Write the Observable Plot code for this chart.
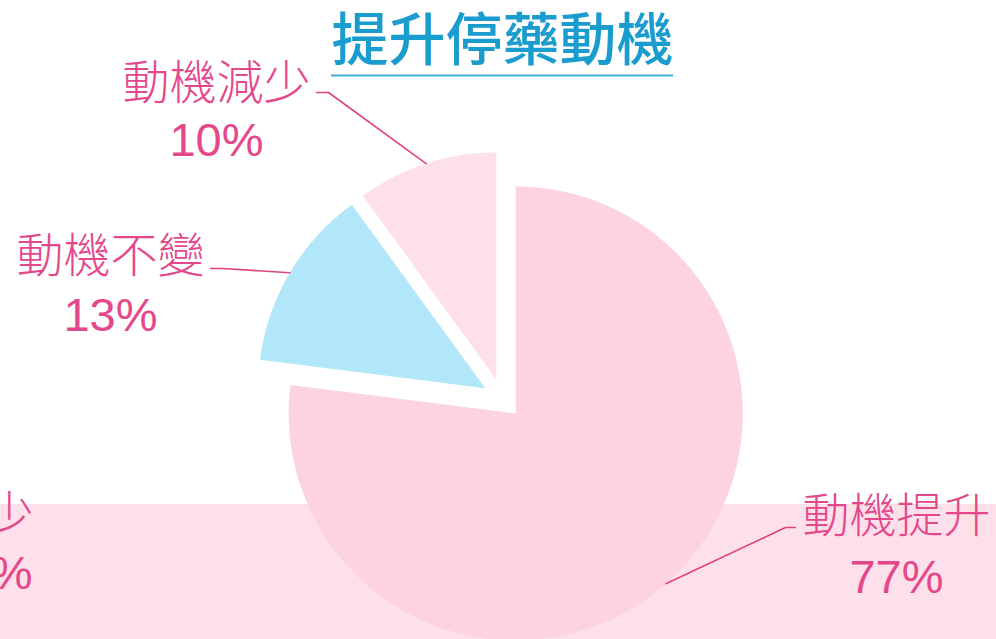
<!DOCTYPE html>
<html>
<head>
<meta charset="utf-8">
<script src="https://cdn.jsdelivr.net/npm/d3@7"></script>
<script src="https://cdn.jsdelivr.net/npm/@observablehq/plot@0.6"></script>
<style>
  html, body { margin: 0; padding: 0; background: #ffffff; }
  #wrap { position: relative; width: 996px; height: 639px; }
  #band { position: absolute; left: 0; top: 504px; width: 996px; height: 135px; background: #fde0ea; }
  #chart { position: absolute; left: 0; top: 0; }
</style>
</head>
<body>
<div id="wrap">
  <div id="band"></div>
  <div id="chart"></div>
</div>
<script>
// ---- data ----
const title = "提升停藥動機";
const names = ["動機提升", "動機不變", "動機減少"];
const values = [77, 13, 10];
const pctLabels = ["77%", "13%", "10%"];

// ---- layout (pixels) ----
const W = 996, H = 639;
const CX = 502, CY = 398, R = 227, EXPLODE = 20;
const sliceColors = ["#fdd3df", "#b2e7f9", "#fde0ea"];
const pink = "#e4488b";
const labelLayout = {
  "動機提升": {x: 896, yName: 531, yPct: 592, elbow: [785, 527], end: [795, 527]},
  "動機不變": {x: 110, yName: 271, yPct: 330, elbow: [222, 268], end: [210, 268]},
  "動機減少": {x: 216, yName: 98,  yPct: 155, elbow: [328, 92],  end: [316, 92]}
};

const total = d3.sum(values);
let acc = 0;
const slices = names.map((name, i) => {
  const a0 = acc / total * 2 * Math.PI;
  acc += values[i];
  const a1 = acc / total * 2 * Math.PI;
  const mid = (a0 + a1) / 2;
  const ox = CX + EXPLODE * Math.sin(mid);
  const oy = CY - EXPLODE * Math.cos(mid);
  const pts = [{name, x: ox, y: oy}];
  const steps = Math.max(8, Math.ceil((a1 - a0) / (Math.PI / 360)));
  for (let k = 0; k <= steps; k++) {
    const a = a0 + (a1 - a0) * k / steps;
    pts.push({name, x: ox + R * Math.sin(a), y: oy - R * Math.cos(a)});
  }
  pts.push({name, x: ox, y: oy});
  const anchor = {x: ox + R * Math.sin(mid), y: oy - R * Math.cos(mid)};
  return {name, pct: pctLabels[i], color: sliceColors[i], pts, anchor};
});

const leaders = slices.flatMap(s => {
  const L = labelLayout[s.name];
  return [
    {name: s.name, x: s.anchor.x, y: s.anchor.y},
    {name: s.name, x: L.elbow[0], y: L.elbow[1]},
    {name: s.name, x: L.end[0], y: L.end[1]}
  ];
});

const labelRows = slices.map(s => ({name: s.name, pct: s.pct, ...labelLayout[s.name]}));
const ghost = [{name: names[2], pct: pctLabels[2]}];

const font = "'Liberation Sans', 'Noto Sans CJK TC', Arial, sans-serif";

const chart = Plot.plot({
  width: W, height: H, margin: 0,
  x: {domain: [0, W], range: [0, W], axis: null},
  y: {domain: [0, H], range: [0, H], axis: null},
  style: {background: "transparent", fontFamily: font},
  marks: [
    ...slices.map(s => Plot.line(s.pts, {x: "x", y: "y", fill: s.color, stroke: "none", curve: "linear"})),
    Plot.line(leaders, {x: "x", y: "y", z: "name", stroke: "#e2427f", strokeWidth: 1.6, curve: "linear"}),
    Plot.text(labelRows, {x: "x", y: "yName", text: "name", fill: pink, fontSize: 47, fontWeight: 300,
      textAnchor: "middle", lineAnchor: "bottom", fontFamily: "'Noto Sans CJK TC', sans-serif"}),
    Plot.text(labelRows, {x: "x", y: "yPct", text: "pct", fill: pink, fontSize: 47,
      textAnchor: "middle", lineAnchor: "bottom", fontFamily: "'Liberation Sans', Arial, sans-serif"}),
    // cropped duplicate label at the left edge, as in the reference
    Plot.text(ghost, {x: () => 33, y: () => 529, text: "name", fill: pink, fontSize: 47, fontWeight: 300,
      textAnchor: "end", lineAnchor: "bottom", fontFamily: "'Noto Sans CJK TC', sans-serif"}),
    Plot.text(ghost, {x: () => 32, y: () => 588, text: "pct", fill: pink, fontSize: 47,
      textAnchor: "end", lineAnchor: "bottom", fontFamily: "'Liberation Sans', Arial, sans-serif"}),
    // title with underline
    Plot.text([title], {x: () => 502, y: () => 59, text: d => d, fill: "#1b9ccf", fontSize: 57, fontWeight: 500,
      textAnchor: "middle", lineAnchor: "bottom", fontFamily: "'Noto Sans CJK TC', sans-serif"}),
    Plot.ruleY([75], {x1: 331, x2: 673, stroke: "#45afdc", strokeWidth: 2})
  ]
});
document.getElementById("chart").appendChild(chart);
</script>
</body>
</html>
